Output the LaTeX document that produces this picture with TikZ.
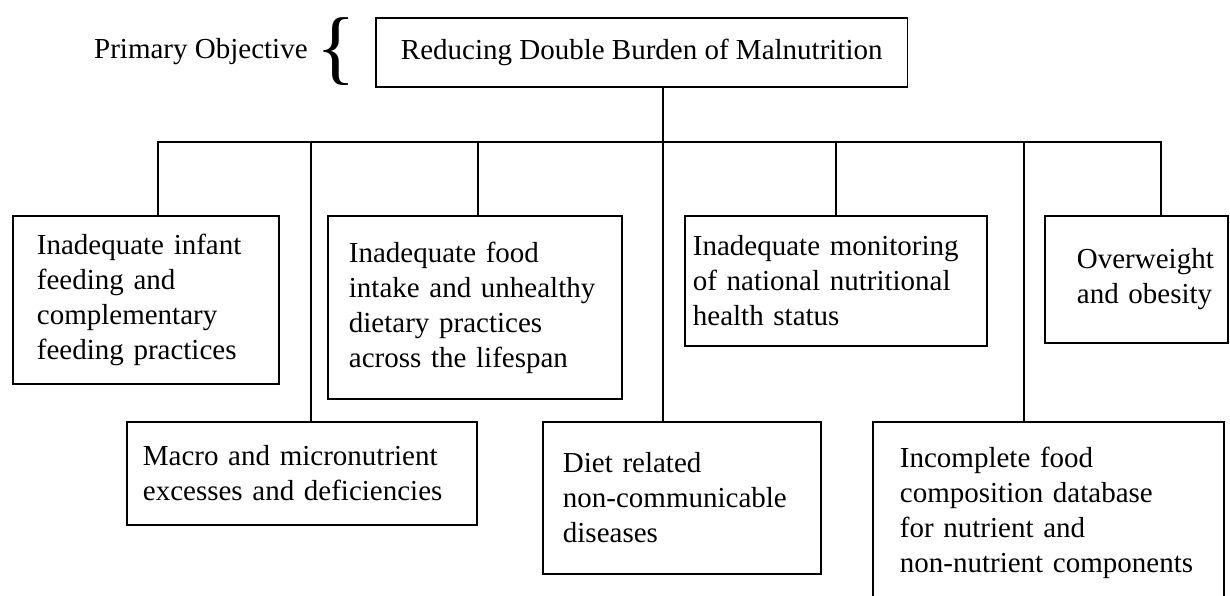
\documentclass[tikz,border=0pt]{standalone}
\usepackage{fontspec}
\setmainfont{Liberation Serif}
\begin{document}
\begin{tikzpicture}[x = 0.5pt, y = -0.5pt,
		box/.style = {draw, line width = 0.9pt, anchor = north west, align = left, inner ysep = 0pt, font = \fontsize{14.5pt}{17.5pt}\selectfont},
		link/.style = {line width = 1.4pt}]
	\useasboundingbox (0,0) rectangle (1230,595);
	\clip (0,0) rectangle (1230,595);
	\node[box, inner xsep = 12.5pt, minimum height = 34.5pt] (goal) at (375,17) {Reducing Double Burden of Malnutrition};
	\node[anchor = east, inner sep = 0pt, font = \fontsize{14.5pt}{17.5pt}\selectfont] (primary) at (308,52) {Primary Objective};
	\node[inner sep = 0pt, font = \fontsize{41pt}{41pt}\selectfont] (brace) at (336,52) {\{};
	\node[box, inner xsep = 12pt, text width = 109pt, minimum height = 84pt] (infant) at (12,215) {Inadequate infant\\feeding and\\complementary\\feeding practices};
	\node[box, inner xsep = 8pt, text width = 159pt, minimum height = 51.5pt] (macro) at (126,421) {Macro and micronutrient\\excesses and deficiencies};
	\node[box, inner xsep = 10.5pt, text width = 126pt, minimum height = 91.5pt] (food) at (327,215) {Inadequate food\\intake and unhealthy\\dietary practices\\across the lifespan};
	\node[box, inner xsep = 10pt, text width = 119pt, minimum height = 76pt] (diet) at (542,421) {Diet related\\non-communicable\\diseases};
	\node[box, inner xsep = 4pt, text width = 143pt, minimum height = 65pt] (monitor) at (684,215) {Inadequate monitoring\\of national nutritional\\health status};
	\node[box, inner xsep = 13.5pt, text width = 148.5pt, minimum height = 91pt] (incomplete) at (872,421) {Incomplete food\\composition database\\for nutrient and\\non-nutrient components};
	\node[box, inner xsep = 16pt, text width = 59.5pt, minimum height = 63.5pt] (over) at (1044,215) {\mbox{Overweight}\\\mbox{and obesity}};
	\coordinate (busL) at (158,142);
	\coordinate (busR) at (1161,142);
	\coordinate (fork) at (663,142);
	\draw[link] (busL |- infant.north) -- (busL) -- (busR) -- (busR |- over.north);
	\draw[link] (goal.south -| fork) -- (fork |- diet.north);
	\foreach \x/\n in {311/macro, 478/food, 836/monitor, 1024/incomplete}
		\draw[link] (\x,142) coordinate (drop) -- (drop |- \n.north);
\end{tikzpicture}
\end{document}
